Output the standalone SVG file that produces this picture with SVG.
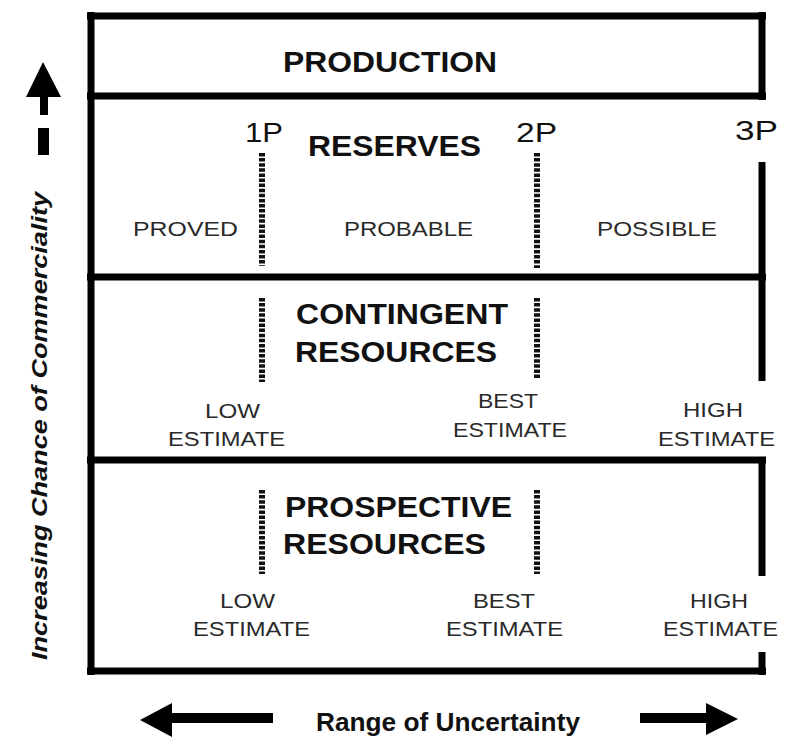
<svg xmlns="http://www.w3.org/2000/svg" width="787" height="747" viewBox="0 0 787 747">
<style>
.frame{stroke:#000;stroke-width:7;fill:none;stroke-linecap:butt}
.dot{stroke:#111;stroke-width:6;fill:none;stroke-dasharray:3.5 1.6}
.h{font-family:"Liberation Sans",Arial,sans-serif;font-weight:bold;font-size:29px;fill:#111}
.p{font-family:"Liberation Sans",Arial,sans-serif;font-size:27px;fill:#111}
.s{font-family:"Liberation Sans",Arial,sans-serif;font-size:21px;fill:#2a2a2a}
.ax{font-family:"Liberation Sans",Arial,sans-serif;font-weight:bold;font-size:25px;fill:#111}
.axv{font-family:"Liberation Sans",Arial,sans-serif;font-weight:bold;font-style:italic;font-size:22px;fill:#111}
</style>
<rect width="787" height="747" fill="#fff"/>
<g id="connectors">
<path class="frame" d="M91 12V675"/>
<path class="frame" d="M87 16H766"/>
<path class="frame" d="M762 12V100"/>
<path class="frame" d="M87 96H766"/>
<path class="frame" d="M762 162V381"/>
<path class="frame" d="M87 277H766"/>
<path class="frame" d="M87 460H766"/>
<path class="frame" d="M762 457V576"/>
<path class="frame" d="M762 652V675"/>
<path class="frame" d="M87 671H766"/>
<path class="dot" d="M262 153V266"/>
<path class="dot" d="M537 153V268"/>
<path class="dot" d="M262 298V382"/>
<path class="dot" d="M537 298V378"/>
<path class="dot" d="M262 490V574"/>
<path class="dot" d="M537 490V574"/>
</g>
<g id="production">
<text class="h" x="283" y="72" textLength="214" lengthAdjust="spacingAndGlyphs">PRODUCTION</text>
</g>
<g id="reserves">
<text class="h" x="308" y="156" textLength="173" lengthAdjust="spacingAndGlyphs">RESERVES</text>
<text class="p" x="245" y="142" textLength="38" lengthAdjust="spacingAndGlyphs">1P</text>
<text class="p" x="516" y="142" textLength="41" lengthAdjust="spacingAndGlyphs">2P</text>
<text class="p" x="735" y="140" textLength="43" lengthAdjust="spacingAndGlyphs">3P</text>
<text class="s" x="133" y="236" textLength="105" lengthAdjust="spacingAndGlyphs">PROVED</text>
<text class="s" x="344" y="236" textLength="129" lengthAdjust="spacingAndGlyphs">PROBABLE</text>
<text class="s" x="597" y="236" textLength="120" lengthAdjust="spacingAndGlyphs">POSSIBLE</text>
</g>
<g id="contingent">
<text class="h" x="296" y="324" textLength="212" lengthAdjust="spacingAndGlyphs">CONTINGENT</text>
<text class="h" x="295" y="362" textLength="202" lengthAdjust="spacingAndGlyphs">RESOURCES</text>
<text class="s" x="205" y="418" textLength="55" lengthAdjust="spacingAndGlyphs">LOW</text>
<text class="s" x="168" y="446" textLength="117" lengthAdjust="spacingAndGlyphs">ESTIMATE</text>
<text class="s" x="478" y="408" textLength="60" lengthAdjust="spacingAndGlyphs">BEST</text>
<text class="s" x="453" y="437" textLength="114" lengthAdjust="spacingAndGlyphs">ESTIMATE</text>
<text class="s" x="683" y="417" textLength="60" lengthAdjust="spacingAndGlyphs">HIGH</text>
<text class="s" x="658" y="446" textLength="117" lengthAdjust="spacingAndGlyphs">ESTIMATE</text>
</g>
<g id="prospective">
<text class="h" x="285" y="517" textLength="227" lengthAdjust="spacingAndGlyphs">PROSPECTIVE</text>
<text class="h" x="283" y="554" textLength="203" lengthAdjust="spacingAndGlyphs">RESOURCES</text>
<text class="s" x="220" y="608" textLength="55" lengthAdjust="spacingAndGlyphs">LOW</text>
<text class="s" x="193" y="636" textLength="117" lengthAdjust="spacingAndGlyphs">ESTIMATE</text>
<text class="s" x="473" y="608" textLength="62" lengthAdjust="spacingAndGlyphs">BEST</text>
<text class="s" x="446" y="636" textLength="117" lengthAdjust="spacingAndGlyphs">ESTIMATE</text>
<text class="s" x="690" y="608" textLength="58" lengthAdjust="spacingAndGlyphs">HIGH</text>
<text class="s" x="663" y="636" textLength="115" lengthAdjust="spacingAndGlyphs">ESTIMATE</text>
</g>
<g id="axis-x">
<path d="M140 720L172 703V713H273V723H172V737Z" fill="#000"/>
<path d="M738 719L706 703V713H640V723H706V735Z" fill="#000"/>
<text class="ax" x="316" y="731" textLength="264" lengthAdjust="spacingAndGlyphs">Range of Uncertainty</text>
</g>
<g id="axis-y">
<path d="M43 62L26 97H40V115H48V97H61Z" fill="#000"/>
<rect x="38" y="128" width="11" height="27" fill="#000"/>
<text class="axv" transform="translate(47,660) rotate(-90)" x="0" y="0" textLength="468" lengthAdjust="spacingAndGlyphs">Increasing Chance of Commerciality</text>
</g>
</svg>
